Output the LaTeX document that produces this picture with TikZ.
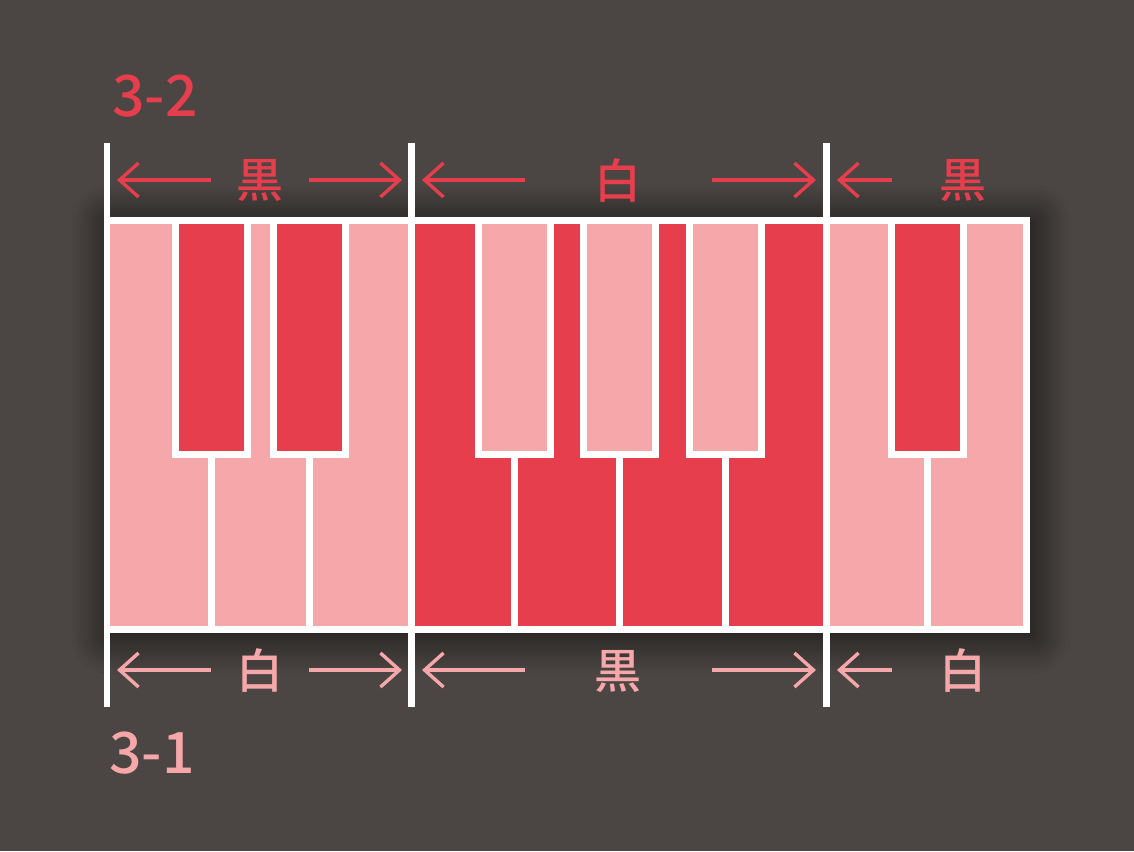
\documentclass[tikz,border=0pt]{standalone}
\usepackage{fontspec}
\newfontfamily\cjk{Noto Sans CJK JP Medium}
\usetikzlibrary{arrows.meta, shadows.blur}

\definecolor{bgdark}{RGB}{75,70,67}
\definecolor{keyred}{RGB}{230,62,77}
\definecolor{keypink}{RGB}{245,167,170}

\begin{document}
\begin{tikzpicture}[
    x=1pt, y=-1pt,
    keybed/.style={
        fill=white,
        blur shadow={shadow xshift=4pt, shadow yshift=-4pt,
            shadow blur radius=36pt, shadow blur steps=30, shadow opacity=75}
    },
    upkey/.style={draw=white, line width=7pt},
    keygap/.style={draw=white, line width=7pt},
    marker/.style={draw=white, line width=6.5pt},
    span/.style={
        -{Straight Barb[length=19pt, width=34pt]}, line width=3.4pt
    },
    kanji/.style={font=\cjk\fontsize{47}{47}\selectfont, inner sep=0pt},
    tag/.style={font=\cjk\fontsize{57}{57}\selectfont, inner sep=0pt}
]

    % --- BACKGROUND ---
    \fill [bgdark] (0,0) rectangle (1134,851);
    \useasboundingbox (0,0) rectangle (1134,851);

    % --- KEYBOARD ---
    \fill [keybed] (104,217) rectangle (1030,633);
    \fill [keypink] (110,224) rectangle (408,626);
    \fill [keyred] (415,224) rectangle (823,626);
    \fill [keypink] (830,224) rectangle (1023,626);

    % raised keys and the gaps under them
    \foreach \cx/\col in {211.5/keyred, 309/keyred, 514/keypink,
                          619.5/keypink, 725.5/keypink, 927/keyred} {
        \filldraw [upkey, fill=\col] (\cx-36,220.5) rectangle (\cx+36,454.5);
        \draw [keygap] (\cx,458) -- (\cx,629);
    }

    % --- SECTION MARKERS ---
    \foreach \mx in {107, 411.5, 826.5} {
        \draw [marker] (\mx,143) -- (\mx,707);
    }

    % --- LABELS ---
    \node [tag, text=keyred] (lbl_top) at (155,96) {3-2};
    \node [tag, text=keypink] (lbl_bot) at (152,753) {3-1};

    \node [kanji, text=keyred] (top_a) at (260,181) {黒};
    \node [kanji, text=keyred] (top_b) at (618,181) {白};
    \node [kanji, text=keyred] (top_c) at (963,181) {黒};
    \node [kanji, text=keypink] (bot_a) at (260,671) {白};
    \node [kanji, text=keypink] (bot_b) at (618,671) {黒};
    \node [kanji, text=keypink] (bot_c) at (963,671) {白};

    % --- SPAN ARROWS ---
    \coordinate (ta_l) at (211,180);   \coordinate (ta_lt) at (117,180);
    \coordinate (ta_r) at (309,180);   \coordinate (ta_rt) at (402,180);
    \coordinate (tb_l) at (525,180);   \coordinate (tb_lt) at (422,180);
    \coordinate (tb_r) at (712,180);   \coordinate (tb_rt) at (816,180);
    \coordinate (tc_l) at (892,180);   \coordinate (tc_lt) at (837,180);

    \coordinate (ba_l) at (211,670);   \coordinate (ba_lt) at (117,670);
    \coordinate (ba_r) at (309,670);   \coordinate (ba_rt) at (402,670);
    \coordinate (bb_l) at (525,670);   \coordinate (bb_lt) at (422,670);
    \coordinate (bb_r) at (712,670);   \coordinate (bb_rt) at (816,670);
    \coordinate (bc_l) at (892,670);   \coordinate (bc_lt) at (837,670);

    \draw [span, keyred] (ta_l) -- (ta_lt);
    \draw [span, keyred] (ta_r) -- (ta_rt);
    \draw [span, keyred] (tb_l) -- (tb_lt);
    \draw [span, keyred] (tb_r) -- (tb_rt);
    \draw [span, keyred] (tc_l) -- (tc_lt);

    \draw [span, keypink] (ba_l) -- (ba_lt);
    \draw [span, keypink] (ba_r) -- (ba_rt);
    \draw [span, keypink] (bb_l) -- (bb_lt);
    \draw [span, keypink] (bb_r) -- (bb_rt);
    \draw [span, keypink] (bc_l) -- (bc_lt);

\end{tikzpicture}
\end{document}
